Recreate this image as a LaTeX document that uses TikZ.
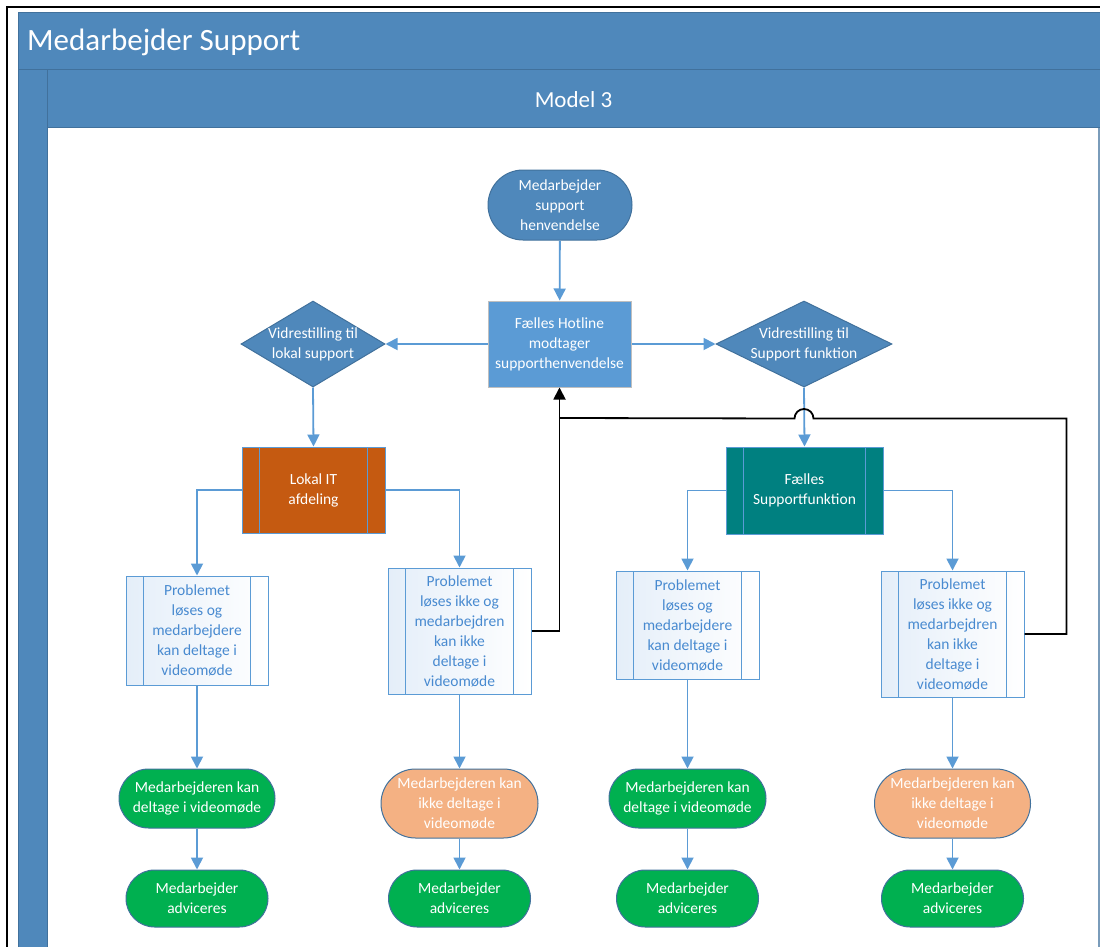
\documentclass[tikz,border=0pt]{standalone}
\usepackage{fontspec}
\setmainfont{Carlito}
\usetikzlibrary{arrows.meta,calc,positioning,shapes.geometric,shapes.misc}
\definecolor{poolblue}{RGB}{79,136,187}
\definecolor{pooledge}{RGB}{65,113,156}
\definecolor{hotblue}{RGB}{91,155,213}
\definecolor{linkblue}{RGB}{91,155,213}
\definecolor{itbrown}{RGB}{197,90,17}
\definecolor{supteal}{RGB}{0,128,128}
\definecolor{okgreen}{RGB}{0,176,80}
\definecolor{failorange}{RGB}{244,177,131}
\definecolor{probtext}{RGB}{72,138,208}
\definecolor{probfill}{RGB}{228,238,249}
\tikzset{
  box text/.style={font=\fontsize{15.5}{20}\selectfont,align=center,text=white,inner sep=0pt},
  terminal/.style={rounded rectangle,draw=pooledge,line width=1pt,box text},
  hotline box/.style={rectangle,draw=black!25,fill=hotblue,line width=1pt,box text},
  decision/.style={diamond,draw=pooledge,fill=poolblue,line width=1pt,inner sep=0pt},
  subprocess/.style={rectangle,draw=linkblue,line width=1pt,box text,
    path picture={
      \draw[linkblue,line width=1pt]
        ([xshift=17.5pt]path picture bounding box.north west) -- ([xshift=17.5pt]path picture bounding box.south west)
        ([xshift=-17.5pt]path picture bounding box.north east) -- ([xshift=-17.5pt]path picture bounding box.south east);
    }},
  problem box/.style={subprocess,left color=probfill,right color=white,text=probtext},
  flow edge/.style={draw=linkblue,line width=1.8pt,-{Triangle[width=12pt,length=12pt]}},
  back edge/.style={draw=black,line width=1.8pt},
}

\begin{document}
\begin{tikzpicture}[x=1pt,y=-1pt]
  \useasboundingbox (0,0) rectangle (1100,947);
  % pool and lane
  \draw[fill=poolblue,draw=pooledge,line width=1pt] (18,13) rectangle (1101,70);
  \draw[fill=poolblue,draw=pooledge,line width=1pt] (47,70) rectangle (1101,128);
  \draw[fill=poolblue,draw=pooledge,line width=1pt] (18,70) rectangle (47,949);
  \draw[pooledge!70,line width=1.5pt] (1099,128) -- (1099,947);
  \draw[line width=2.5pt] (7,947) -- (7,7) -- (1100,7);
  \node[anchor=west,text=white,inner sep=0pt,font=\fontsize{31}{36}\selectfont] (pooltitle) at (27,42) {Medarbejder Support};
  \node[text=white,inner sep=0pt,font=\fontsize{23}{28}\selectfont] (lanetitle) at (573.5,100) {Model 3};

  % top of the flow
  \node[terminal,fill=poolblue,minimum width=144pt,minimum height=70pt] (start) at (560,205) {Medarbejder\\support\\henvendelse};
  \node[hotline box,minimum width=143pt,minimum height=86pt] (hotline) at (559.5,344) {Fælles Hotline\\modtager\\supporthenvendelse};
  \node[decision,minimum width=144pt,minimum height=86pt,
    label={[box text]center:Vidrestilling til\\lokal support}] (dleft) at (313,344) {};
  \node[decision,minimum width=176pt,minimum height=86pt,
    label={[box text]center:Vidrestilling til\\Support funktion}] (dright) at (804,344) {};
  \node[subprocess,fill=itbrown,minimum width=143pt,minimum height=86pt] (lokal) at (313.5,490) {Lokal IT\\afdeling};
  \node[subprocess,fill=supteal,minimum width=157pt,minimum height=87pt] (faelles) at (804.5,490.5) {Fælles\\Supportfunktion};

  % problem boxes
  \node[problem box,minimum width=142pt,minimum height=109pt] (p1) at (197,630.5) {Problemet\\løses og\\medarbejdere\\kan deltage i\\videomøde};
  \node[problem box,minimum width=143pt,minimum height=126pt] (p2) at (459.5,631) {Problemet\\løses ikke og\\medarbejdren\\kan ikke\\deltage i\\videomøde};
  \node[problem box,minimum width=143pt,minimum height=108pt] (p3) at (687.5,625) {Problemet\\løses og\\medarbejdere\\kan deltage i\\videomøde};
  \node[problem box,minimum width=143pt,minimum height=126pt] (p4) at (952.5,634) {Problemet\\løses ikke og\\medarbejdren\\kan ikke\\deltage i\\videomøde};

  % results
  \node[terminal,fill=okgreen,minimum width=156pt,minimum height=59pt] (r1) at (197,798.5) {Medarbejderen kan\\deltage i videomøde};
  \node[terminal,fill=failorange,minimum width=157pt,minimum height=69pt] (r2) at (459.5,803.5) {Medarbejderen kan\\ikke deltage i\\videomøde};
  \node[terminal,fill=okgreen,minimum width=157pt,minimum height=59pt] (r3) at (687.5,798.5) {Medarbejderen kan\\deltage i videomøde};
  \node[terminal,fill=failorange,minimum width=156pt,minimum height=69pt] (r4) at (952.5,803.5) {Medarbejderen kan\\ikke deltage i\\videomøde};
  \node[terminal,fill=okgreen,minimum width=142pt,minimum height=57pt] (a1) at (197,898.5) {Medarbejder\\adviceres};
  \node[terminal,fill=okgreen,minimum width=142pt,minimum height=57pt] (a2) at (459.5,898.5) {Medarbejder\\adviceres};
  \node[terminal,fill=okgreen,minimum width=142pt,minimum height=57pt] (a3) at (687.5,898.5) {Medarbejder\\adviceres};
  \node[terminal,fill=okgreen,minimum width=142pt,minimum height=57pt] (a4) at (952.5,898.5) {Medarbejder\\adviceres};

  % connectors
  \draw[flow edge] (start) -- (hotline);
  \draw[flow edge] (hotline.west) -- (dleft.east);
  \draw[flow edge] (hotline.east) -- (dright.west);
  \draw[flow edge] (dleft.south) -- (lokal.north);
  \draw[flow edge] (dright.south) -- (faelles.north);
  \draw[flow edge] (lokal.west) -| (p1.north);
  \draw[flow edge] (lokal.east) -| (p2.north);
  \draw[flow edge] (faelles.west) -| (p3.north);
  \draw[flow edge] (faelles.east) -| (p4.north);
  \foreach \i in {1,2,3,4} {
    \draw[flow edge] (p\i.south) -- (r\i.north);
    \draw[flow edge] (r\i.south) -- (a\i.north);
  }

  % back to the hotline
  \coordinate (merge) at (559.5,418);
  \coordinate (hop) at ($(dright.south)+(9.5,31)$);
  \draw[back edge] (p4.east) -- ++(42,0) coordinate (turn) |- (hop)
    arc[start angle=0,end angle=-180,radius=9.5] -- (merge);
  \draw[back edge,-{Triangle[width=12pt,length=12pt]}] (p2.east) -| (hotline.south);
\end{tikzpicture}
\end{document}
